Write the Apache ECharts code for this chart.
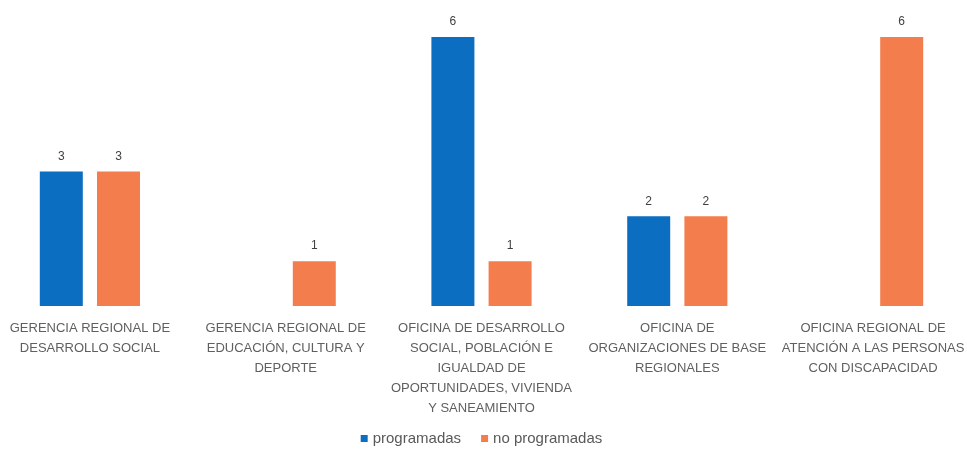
<!DOCTYPE html>
<html><head><meta charset="utf-8">
<script src="https://cdn.jsdelivr.net/npm/echarts@6/dist/echarts.min.js"></script>
<style>html,body{margin:0;padding:0;background:#fff;overflow:hidden;width:967px;height:454px}#c{position:absolute;left:-8px;top:0;width:979px;height:454px}</style>
</head><body><div id="c"></div>
<script>
const categories = [
  'GERENCIA REGIONAL DE\nDESARROLLO SOCIAL',
  'GERENCIA REGIONAL DE\nEDUCACIÓN, CULTURA Y\nDEPORTE',
  'OFICINA DE DESARROLLO\nSOCIAL, POBLACIÓN E\nIGUALDAD DE\nOPORTUNIDADES, VIVIENDA\nY SANEAMIENTO',
  'OFICINA DE\nORGANIZACIONES DE BASE\nREGIONALES',
  'OFICINA REGIONAL DE\nATENCIÓN A LAS PERSONAS\nCON DISCAPACIDAD'
];
const programadas = [3, null, 6, 2, null];
const noProgramadas = [3, 1, 1, 2, 6];
const seriesNames = ['programadas', 'no programadas'];

const font = "'Liberation Sans', sans-serif";
const chart = echarts.init(document.getElementById('c'));
const lbl = {show: true, position: 'top', distance: 9, color: '#404040', fontSize: 12, fontFamily: font};
chart.setOption({
  animation: false,
  grid: {left: 0, right: 0, top: 37, bottom: 148, containLabel: false},
  legend: {
    bottom: 3, left: 'center', itemWidth: 7, itemHeight: 7, itemGap: 20,
    icon: 'rect',
    textStyle: {color: '#595959', fontSize: 15, fontFamily: font},
    data: seriesNames
  },
  xAxis: {
    type: 'category', data: categories,
    axisLine: {show: false}, axisTick: {show: false},
    axisLabel: {color: '#5f5f5f', fontSize: 13, fontFamily: font, lineHeight: 20, margin: 12, interval: 0}
  },
  yAxis: {type: 'value', min: 0, max: 6, show: false, splitLine: {show: false}},
  series: [
    {name: seriesNames[0], type: 'bar', data: programadas, barWidth: 43, barGap: '33%',
     itemStyle: {color: '#0B6EC1'}, label: lbl},
    {name: seriesNames[1], type: 'bar', data: noProgramadas, barWidth: 43, barGap: '33%',
     itemStyle: {color: '#F47D4E'}, label: lbl}
  ]
});
</script></body></html>
